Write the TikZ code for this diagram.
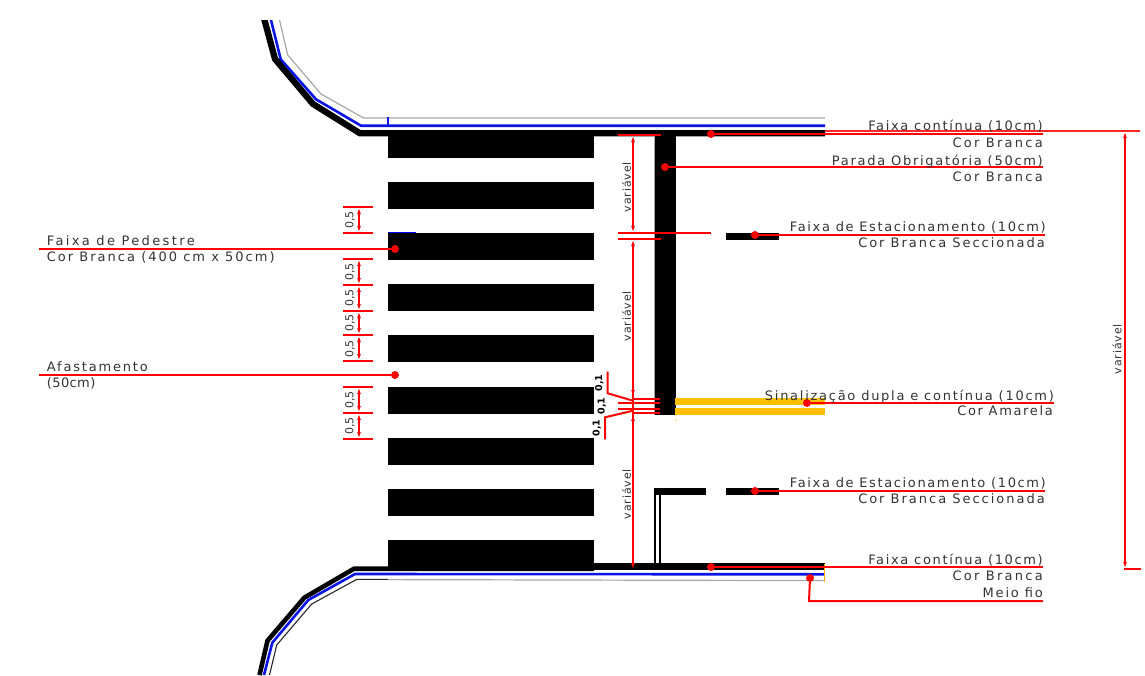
\documentclass[tikz,border=0pt]{standalone}
\usepackage{fontspec}
\setmainfont{DejaVu Sans}
\usetikzlibrary{arrows.meta}
\definecolor{signyellow}{HTML}{FFC000}
\definecolor{cadblue}{HTML}{0A14E6}
\tikzset{
 x=1pt,y=-1pt,
 zebra/.style={fill=black,draw=none},
 lead/.style={draw=red,line width=2pt},
 leaddot/.style={circle,fill=red,inner sep=0pt,minimum size=8pt},
 dimline/.style={draw=red,line width=1.8pt},
 dimarrow/.style={draw=red,line width=1.6pt,{Latex[length=7pt,width=3.8pt]}-{Latex[length=7pt,width=3.8pt]}},
 lbl/.style={font=\fontsize{13}{15}\selectfont,inner sep=0pt,text=black!80},
 rot/.style={font=\fontsize{11}{13}\selectfont,rotate=90,inner sep=0pt,text=black!80},
 rotb/.style={font=\bfseries\fontsize{9.5}{12}\selectfont,rotate=90,inner sep=0pt},
 curb/.style={line width=6.3pt,draw=black,line join=miter},
 curbthin/.style={line width=4.6pt,draw=black,line join=miter},
 blueline/.style={line width=2.6pt,draw=cadblue},
 greyline/.style={line width=1.2pt,draw=black!35},
 yellowbar/.style={fill=signyellow,draw=none}
}
\newcommand{\spaced}[2][12.5]{\addfontfeatures{LetterSpace=#1}#2}
\newcommand{\spacedv}[1]{\addfontfeatures{LetterSpace=8}#1}
\begin{document}
\begin{tikzpicture}
\useasboundingbox (0,0) rectangle (1145,675);
% road edges, cut square at the top of the drawing
\begin{scope}
\clip (0,20) rectangle (1145,675);
\draw[greyline] (277.2,10) -- (287.7,55) -- (321,94) -- (363.5,118) -- (825,118);
\draw[blueline] (268.5,10) -- (280.7,59.3) -- (316,99.3) -- (361,125.7) -- (825,125.7);
\draw[curb] (261.8,10) -- (275,59) -- (313,104) -- (360,133.3) -- (825,133.3);
\end{scope}
\draw[blueline] (388,117) -- (388,126);
\draw[draw=blue,line width=0.9pt] (388,232.5) -- (416,232.5);
% bottom edges
\draw[curbthin] (259.5,675) -- (267.5,640.7) -- (304.3,597.7) -- (354,568.7) -- (594,568.7);
\fill[zebra] (594,563.4) rectangle (825,570);
\draw[blueline] (264,675) -- (272.3,642.7) -- (308.3,600) -- (355,574) -- (825,574.3);
\draw[draw=black!85,line width=1.1pt] (269.5,675) -- (276.7,645) -- (311.7,604) -- (356.7,579.4) -- (388,579.4);
\draw[greyline] (388,579.6) -- (825,580.6);
\draw[draw=signyellow!80!orange,line width=1.2pt] (824.5,564) -- (824.5,581.7);
% zebra
\foreach \ya/\yb in {132/158,182/208.5,233/260,284/311,335/362,387/414,438/465,489/516,540/567}{
 \fill[zebra] (388,\ya) rectangle (594,\yb);
}
% stop line
\fill[zebra] (654.3,135) rectangle (676.3,415);
\draw[black!35,line width=0.7pt] (654.3,135) -- (654.3,415);
% yellow double
\fill[yellowbar] (675,398) rectangle (825,405);
\fill[yellowbar] (675,408.3) rectangle (825,415);
\fill[yellowbar] (674.5,420) rectangle (676,421);
% parking dashes
\fill[zebra] (726,232.7) rectangle (779,239.5);
\fill[zebra] (654,488.3) rectangle (706,495);
\fill[zebra] (726,488.3) rectangle (779,495);
\draw[black,line width=1.7pt] (654.8,490) -- (654.8,565) (660,490) -- (660,565);
% leaders right
\node[leaddot] (d1) at (711,134) {};
\coordinate (e1) at (1043,134);
\draw[lead] (d1) -- (e1);
\node[leaddot] (d2) at (665,167) {};
\coordinate (e2) at (1043,167);
\draw[lead] (d2) -- (e2);
\node[leaddot] (d3) at (755,235) {};
\coordinate (e3) at (1045,235);
\draw[lead] (d3) -- (e3);
\node[leaddot] (d4) at (807,403) {};
\coordinate (e4) at (1054,403);
\draw[lead] (d4) -- (e4);
\node[leaddot] (d5) at (755,491) {};
\coordinate (e5) at (1045,491);
\draw[lead] (d5) -- (e5);
\node[leaddot] (d6) at (711,567) {};
\coordinate (e6) at (1043,567);
\draw[lead] (d6) -- (e6);
\node[leaddot] (d7) at (810,578) {};
\coordinate (e7) at (809,601);
\coordinate (e8) at (1043,601);
\draw[lead] (d7) -- (e7) -- (e8);
% leaders left
\node[leaddot] (d8) at (395,249) {};
\coordinate (e9) at (39,249);
\draw[lead] (d8) -- (e9);
\node[leaddot] (d9) at (395,375) {};
\coordinate (e10) at (39,375);
\draw[lead] (d9) -- (e10);
% right overall dim
\draw[draw=red!85,line width=1.8pt] (825,131) -- (1140,131);
\draw[dimline] (1124,569) -- (1141,569);
\draw[dimarrow] (1125,131) -- (1125,569);
\node[rot] at (1117,349) {\spacedv{variável}};
% centre vertical dims
\draw[dimline] (618,135) -- (661,135) (618,233) -- (711,233) (618,239) -- (661,239);
\draw[dimarrow] (633,135) -- (633,233);
\draw[dimarrow] (633,239) -- (633,397);
\draw[dimarrow] (633,414) -- (633,570);
\node[rot] at (626.5,187) {\spacedv{variável}};
\node[rot] at (626.5,316) {\spacedv{variável}};
\node[rot] at (626.5,494) {\spacedv{variável}};
% 0,1 fan
\draw[lead] (607.7,371.7) -- (607.7,393.3) -- (633,400.7);
\draw[lead] (605,439.3) -- (605,417.3) -- (633,410.7);
\draw[draw=red,line width=2.2pt] (633,399) -- (660,399);
\draw[draw=red,line width=2.2pt] (618,403) -- (660,403);
\draw[draw=red,line width=2.2pt] (618,409) -- (660,409);
\draw[draw=red,line width=2.2pt] (633,413) -- (660,413);
\draw[draw=red,line width=2.4pt] (633,383) -- (633,423);
\node[rotb] at (599.3,383) {0,1};
\node[rotb] at (601.7,406) {0,1};
\node[rotb] at (596.7,428) {0,1};
% 0,5 dims
\foreach \y in {207,233,259,285,311,335,361,387,413,439}{
 \draw[dimline] (343,\y) -- (373,\y);
}
\foreach \ya/\yb in {207/233,259/285,285/311,311/335,335/361,387/413,413/439}{
 \draw[dimarrow] (359,\ya) -- (359,\yb);
}
\foreach \y in {220,272,298,323,349,400,426}{
 \node[rot] at (350,\y) {0,5};
}
% texts
\node[lbl,anchor=base east] at (1043,130.7) {\spaced[12.7]{Faixa contínua (10cm)}};
\node[lbl,anchor=base east] at (1043,147) {\spaced[17.4]{Cor Branca}};
\node[lbl,anchor=base east] at (1043,165.7) {\spaced[13.2]{Parada Obrigatória (50cm)}};
\node[lbl,anchor=base east] at (1043,181) {\spaced[17.4]{Cor Branca}};
\node[lbl,anchor=base east] at (1046,231.7) {\spaced[12.5]{Faixa de Estacionamento (10cm)}};
\node[lbl,anchor=base east] at (1045,247.7) {\spaced[15.3]{Cor Branca Seccionada}};
\node[lbl,anchor=base east] at (1054,400) {\spaced[13.3]{Sinalização dupla e contínua (10cm)}};
\node[lbl,anchor=base east] at (1053,415.7) {\spaced[12.7]{Cor Amarela}};
\node[lbl,anchor=base east] at (1046,487) {\spaced[12.5]{Faixa de Estacionamento (10cm)}};
\node[lbl,anchor=base east] at (1045,503) {\spaced[15.3]{Cor Branca Seccionada}};
\node[lbl,anchor=base east] at (1043,564) {\spaced[12.7]{Faixa contínua (10cm)}};
\node[lbl,anchor=base east] at (1043,580) {\spaced[17.4]{Cor Branca}};
\node[lbl,anchor=base east] at (1043,597.5) {\spaced[14]{Meio fio}};
\node[lbl,anchor=base west] at (46.7,245.7) {\spaced[18.3]{Faixa de Pedestre}};
\node[lbl,anchor=base west] at (46.7,261) {\spaced[15.5]{Cor Branca (400 cm x 50cm)}};
\node[lbl,anchor=base west] at (46.7,371.7) {\spaced[14]{Afastamento}};
\node[lbl,anchor=base west] at (46.7,387) {\spaced[3]{(50cm)}};
\end{tikzpicture}
\end{document}
